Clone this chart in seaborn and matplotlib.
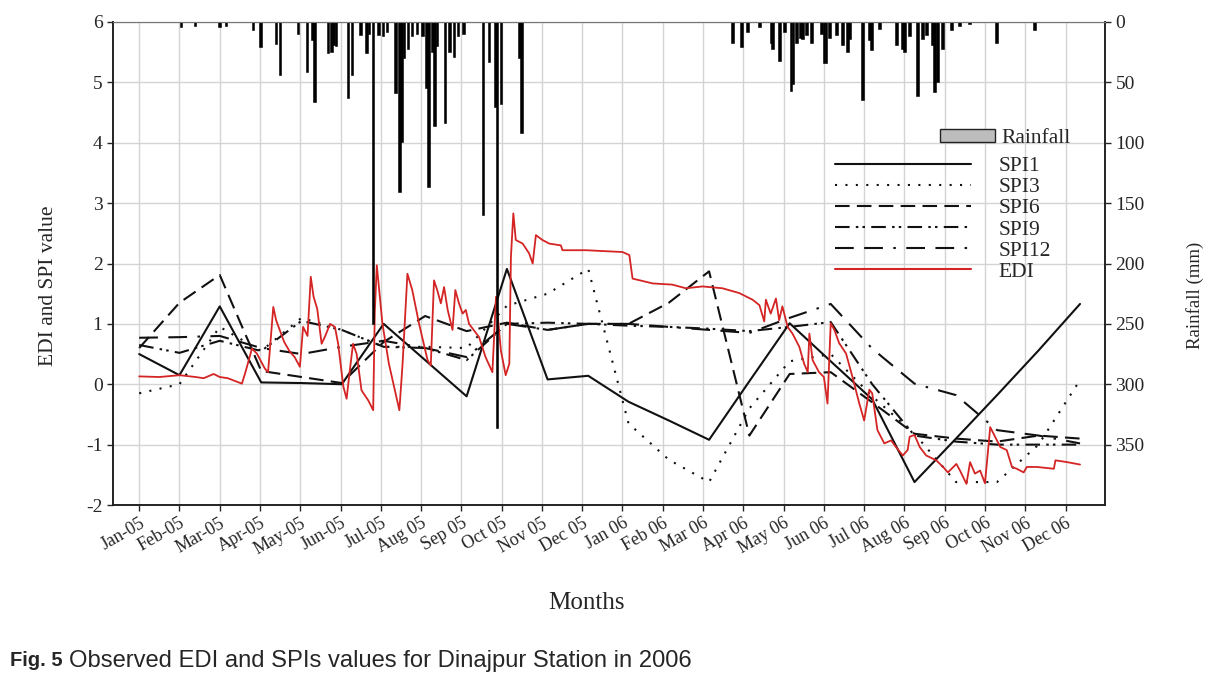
import numpy as np
import matplotlib
matplotlib.use("Agg")
import matplotlib.pyplot as plt
from matplotlib.patches import Patch
from matplotlib.lines import Line2D
import seaborn as sns

# ---- data (x in months since Jan-05) ----
month_labels = ['Jan-05', 'Feb-05', 'Mar-05', 'Apr-05', 'May-05', 'Jun-05', 'Jul-05',
                'Aug 05', 'Sep 05', 'Oct 05', 'Nov 05', 'Dec 05', 'Jan 06', 'Feb 06',
                'Mar 06', 'Apr 06', 'May 06', 'Jun 06', 'Jul 06', 'Aug 06', 'Sep 06',
                'Oct 06', 'Nov 06', 'Dec 06']

spi_month = [0, 1, 2, 3.03, 4.03, 5.03, 6.07, 7.1, 8.13, 9.13, 10.14, 11.15,
             12.15, 13.15, 14.15, 15.15, 16.15, 17.17, 18.2, 19.25, 20.28, 21.3, 22.33, 23.36]

spi1 = [0.5, 0.15, 1.29, 0.03, 0.02, 0.0, 1.0, 0.4, -0.2, 1.91, 0.08, 0.14,
        -0.29, -0.6, -0.92, 0.05, 1.01, 0.38, -0.25, -1.62, -0.9, -0.18, 0.56, 1.33]
spi3 = [-0.15, 0.0, 0.95, 0.55, 1.1, 0.9, 0.62, 0.62, 0.6, 1.3, 1.5, 1.91,
        -0.65, -1.25, -1.62, -0.4, 0.38, 0.5, -0.2, -0.82, -1.62, -1.62, -1.0, 0.07]
spi6 = [0.6, 1.35, 1.81, 0.22, 0.12, 0.02, 0.7, 1.13, 0.88, 1.02, 0.9, 1.0,
        1.0, 1.35, 1.87, -0.85, 0.17, 0.2, -0.3, -0.82, -0.9, -0.95, -0.85, -0.9]
spi9 = [0.65, 0.52, 0.72, 0.55, 1.05, 0.9, 0.62, 0.6, 0.4, 1.0, 1.02, 1.0,
        0.97, 0.95, 0.92, 0.88, 0.95, 1.03, 0.0, -0.85, -0.95, -1.0, -1.0, -1.0]
spi12 = [0.77, 0.78, 0.8, 0.6, 0.5, 0.62, 0.72, 0.6, 0.45, 1.0, 0.9, 1.0,
         1.0, 0.95, 0.9, 0.85, 1.1, 1.33, 0.59, 0.01, -0.18, -0.76, -0.85, -0.98]

edi_month = [0.0, 0.5, 1.0, 1.4, 1.6, 1.85, 2.0, 2.2, 2.55, 2.63, 2.8, 2.92, 3.12, 3.2,
             3.33, 3.4, 3.6, 3.74, 3.86, 3.99, 4.07, 4.18, 4.26, 4.33, 4.42, 4.53, 4.62,
             4.74, 4.86, 4.94, 5.07, 5.15, 5.23, 5.31, 5.4, 5.52, 5.69, 5.81, 5.85,
             5.9, 6.04, 6.2, 6.46, 6.54, 6.66, 6.78, 6.95, 7.16, 7.24, 7.32, 7.4,
             7.49, 7.57, 7.66, 7.78, 7.85, 7.94, 8.03, 8.11, 8.19, 8.44, 8.6, 8.77,
             8.86, 8.98, 9.1, 9.19, 9.23, 9.29, 9.35, 9.52, 9.68, 9.77, 9.85, 10.01,
             10.18, 10.47, 10.51, 11.09, 12.0, 12.17, 12.25, 12.75, 13.24, 13.57,
             13.99, 14.48, 14.9, 15.23, 15.4, 15.52, 15.56, 15.68, 15.81, 15.89,
             15.97, 16.1, 16.22, 16.39, 16.51, 16.6, 16.64, 16.72, 16.88, 17.0,
             17.09, 17.17, 17.26, 17.38, 17.55, 17.71, 17.88, 18.0, 18.13, 18.2,
             18.33, 18.5, 18.67, 18.79, 18.96, 19.08, 19.13, 19.25, 19.38, 19.54,
             19.79, 19.96, 20.08, 20.29, 20.38, 20.54, 20.63, 20.75, 20.88, 21.0,
             21.13, 21.25, 21.38, 21.54, 21.67, 21.79, 21.96, 22.04, 22.29, 22.71,
             22.75, 23.04, 23.36]
edi = [0.13, 0.12, 0.15, 0.12, 0.1, 0.17, 0.12, 0.1, 0.01, 0.18, 0.59, 0.51, 0.26, 0.2,
       1.28, 1.06, 0.7, 0.54, 0.45, 0.29, 0.95, 0.8, 1.78, 1.45, 1.25, 0.67, 0.8,
       1.0, 0.95, 0.67, -0.04, -0.24, 0.23, 0.67, 0.5, -0.1, -0.27, -0.43, 1.2,
       1.97, 1.0, 0.34, -0.43, 0.34, 1.83, 1.56, 1.0, 0.4, 0.31, 1.72, 1.56,
       1.34, 1.61, 1.23, 0.9, 1.56, 1.34, 1.17, 1.23, 1.0, 0.78, 0.45, 0.2,
       1.45, 0.56, 0.15, 0.34, 2.11, 2.83, 2.39, 2.33, 2.17, 2.0, 2.47, 2.39,
       2.33, 2.3, 2.22, 2.22, 2.19, 2.14, 1.75, 1.67, 1.65, 1.59,
       1.62, 1.59, 1.51, 1.4, 1.31, 1.04, 1.4, 1.17, 1.42, 1.06,
       1.29, 0.95, 0.84, 0.62, 0.34, 0.2, 0.84, 0.4, 0.2, 0.12,
       -0.32, 1.01, 0.9, 0.68, 0.51, 0.12, -0.32, -0.6, -0.09, -0.15,
       -0.76, -0.98, -0.93, -1.04, -1.18, -1.09, -0.87, -0.84, -1.04, -1.18,
       -1.26, -1.37, -1.46, -1.32, -1.43, -1.65, -1.29, -1.48, -1.43, -1.64,
       -0.71, -0.87, -1.04, -1.09, -1.37, -1.4, -1.46, -1.37, -1.37, -1.4,
       -1.26, -1.29, -1.33]

rain_month = [1.04, 1.39, 1.99, 2.16, 2.83, 3.01, 3.40, 3.50, 3.95, 4.17, 4.30, 4.35,
              4.69, 4.77, 4.82, 4.89, 5.19, 5.29, 5.49, 5.64, 5.71, 5.81, 5.94, 6.06,
              6.16, 6.36, 6.46, 6.51, 6.58, 6.68, 6.78, 6.90, 7.03, 7.13, 7.18, 7.28,
              7.33, 7.40, 7.60, 7.70, 7.82, 7.92, 8.05, 8.54, 8.69, 8.85, 8.89, 8.99,
              9.44, 9.49,
              14.73, 14.95, 15.10, 15.40, 15.70, 15.72, 15.90, 16.02, 16.19, 16.24,
              16.32, 16.42, 16.47, 16.57, 16.69, 16.94, 17.01, 17.06, 17.14, 17.31,
              17.46, 17.59, 17.64, 17.96, 18.13, 18.18, 18.38, 18.80, 18.95, 19.00,
              19.13, 19.32, 19.45, 19.55, 19.70, 19.75, 19.82, 19.95, 20.17, 20.37,
              20.62, 21.29, 22.23]
rain_mm = [4, 3, 4, 3, 7, 21, 18, 44, 10, 41, 15, 66,
           26, 25, 19, 20, 63, 44, 11, 26, 10, 250, 11, 12,
           8, 59, 141, 99, 30, 22, 12, 10, 12, 55, 137, 25,
           86, 20, 84, 25, 29, 12, 10, 160, 33, 70, 336, 68,
           30, 92,
           17, 21, 8, 4, 17, 22, 32, 8, 57, 51,
           17, 13, 14, 11, 17, 10, 34, 34, 13, 11,
           19, 25, 14, 65, 15, 23, 6, 19, 22, 25,
           12, 61, 14, 11, 19, 58, 50, 22, 7, 3,
           2, 17, 7]

# ---- style ----
sns.set_style("ticks")
plt.rcParams['font.family'] = ['Liberation Serif', 'DejaVu Serif']
plt.rcParams['axes.unicode_minus'] = False

fig = plt.figure(figsize=(12.24, 6.78), dpi=100)
ax = fig.add_axes([113 / 1224, 1 - 505 / 678, (1105 - 113) / 1224, (505 - 22) / 678])
ax2 = ax.twinx()

# rainfall bars (right axis, inverted)
ax2.bar(rain_month, rain_mm, width=0.06, color='black', edgecolor='black', linewidth=0.4)
ax2.set_ylim(400, 0)
ax2.set_yticks(range(0, 351, 50))
ax2.set_ylabel('Rainfall (mm)', fontsize=13.5)
ax2.yaxis.set_label_coords(1.082, 0.435)
ax2.tick_params(axis='y', labelsize=14, direction='out', length=4, width=1)

# index lines
black = '#111111'
sns.lineplot(x=spi_month, y=spi1, ax=ax, color=black, lw=1.5, estimator=None, linestyle='-')
sns.lineplot(x=spi_month, y=spi3, ax=ax, color=black, lw=1.5, estimator=None, linestyle=(0, (1, 4)))
sns.lineplot(x=spi_month, y=spi6, ax=ax, color=black, lw=1.5, estimator=None, linestyle=(0, (7, 3.5)))
sns.lineplot(x=spi_month, y=spi9, ax=ax, color=black, lw=1.5, estimator=None,
             linestyle=(0, (7, 3, 1.2, 2, 1.2, 3)))
sns.lineplot(x=spi_month, y=spi12, ax=ax, color=black, lw=1.5, estimator=None,
             linestyle=(0, (9, 5, 9, 5, 1.2, 5)))
sns.lineplot(x=edi_month, y=edi, ax=ax, color='#d42424', lw=1.3, estimator=None, sort=False)

ax.set_xlim(-0.65, 23.98)
ax.set_ylim(-2, 6)
ax.set_yticks(range(-2, 7))
ax.set_xticks(range(len(month_labels)))
ax.set_xticklabels(month_labels, rotation=30, ha='right', rotation_mode='anchor', fontsize=13)
ax.tick_params(axis='y', labelsize=14, direction='out', length=4, width=1)
ax.tick_params(axis='x', direction='out', length=4, width=1, pad=3)
ax.grid(True, color='#d4d4d4', lw=1)
ax.set_axisbelow(True)
ax.set_ylabel('EDI and SPI value', fontsize=15.5)
ax.yaxis.set_label_coords(-0.055, 0.453)
ax.set_xlabel('Months', fontsize=18)
ax.xaxis.set_label_coords(0.477, -0.18)

for a in (ax, ax2):
    for s in ('left', 'right', 'bottom'):
        a.spines[s].set_color('#222222')
        a.spines[s].set_linewidth(1.2)
    a.spines['top'].set_color('#777777')

# legends
line_handles = [
    Line2D([], [], color=black, lw=1.5, linestyle='-'),
    Line2D([], [], color=black, lw=1.5, linestyle=(0, (1, 4))),
    Line2D([], [], color=black, lw=1.5, linestyle=(0, (7, 3.5))),
    Line2D([], [], color=black, lw=1.5, linestyle=(0, (7, 3, 1.2, 2, 1.2, 3))),
    Line2D([], [], color=black, lw=1.5, linestyle=(0, (9, 5, 9, 5, 1.2, 5))),
    Line2D([], [], color='#d42424', lw=1.5),
]
leg1 = ax2.legend(line_handles, ['SPI1', 'SPI3', 'SPI6', 'SPI9', 'SPI12', 'EDI'],
                  loc='upper left', bbox_to_anchor=(835 / 1224, 1 - 156 / 678),
                  bbox_transform=fig.transFigure, frameon=False, fontsize=15.5,
                  handlelength=6.3, handletextpad=1.3, labelspacing=0.05,
                  borderpad=0, borderaxespad=0)
ax2.add_artist(leg1)
rain_handle = [Patch(facecolor='#bdbdbd', edgecolor='#222222', lw=1)]
ax2.legend(rain_handle, ['Rainfall'], loc='upper left',
           bbox_to_anchor=(940 / 1224, 1 - 129 / 678), bbox_transform=fig.transFigure,
           frameon=False, fontsize=15.5, handlelength=2.56, handleheight=0.56,
           handletextpad=0.3, borderpad=0, borderaxespad=0)

# caption
fig.text(10 / 1224, 1 - 661 / 678, 'Fig. 5', fontsize=14.5, fontweight='bold',
         family=['Liberation Sans', 'DejaVu Sans'], va='center')
fig.text(69 / 1224, 1 - 661 / 678, 'Observed EDI and SPIs values for Dinajpur Station in 2006',
         fontsize=17.1, family=['Liberation Sans', 'DejaVu Sans'], va='center')

fig.savefig('out.png', dpi=100)
